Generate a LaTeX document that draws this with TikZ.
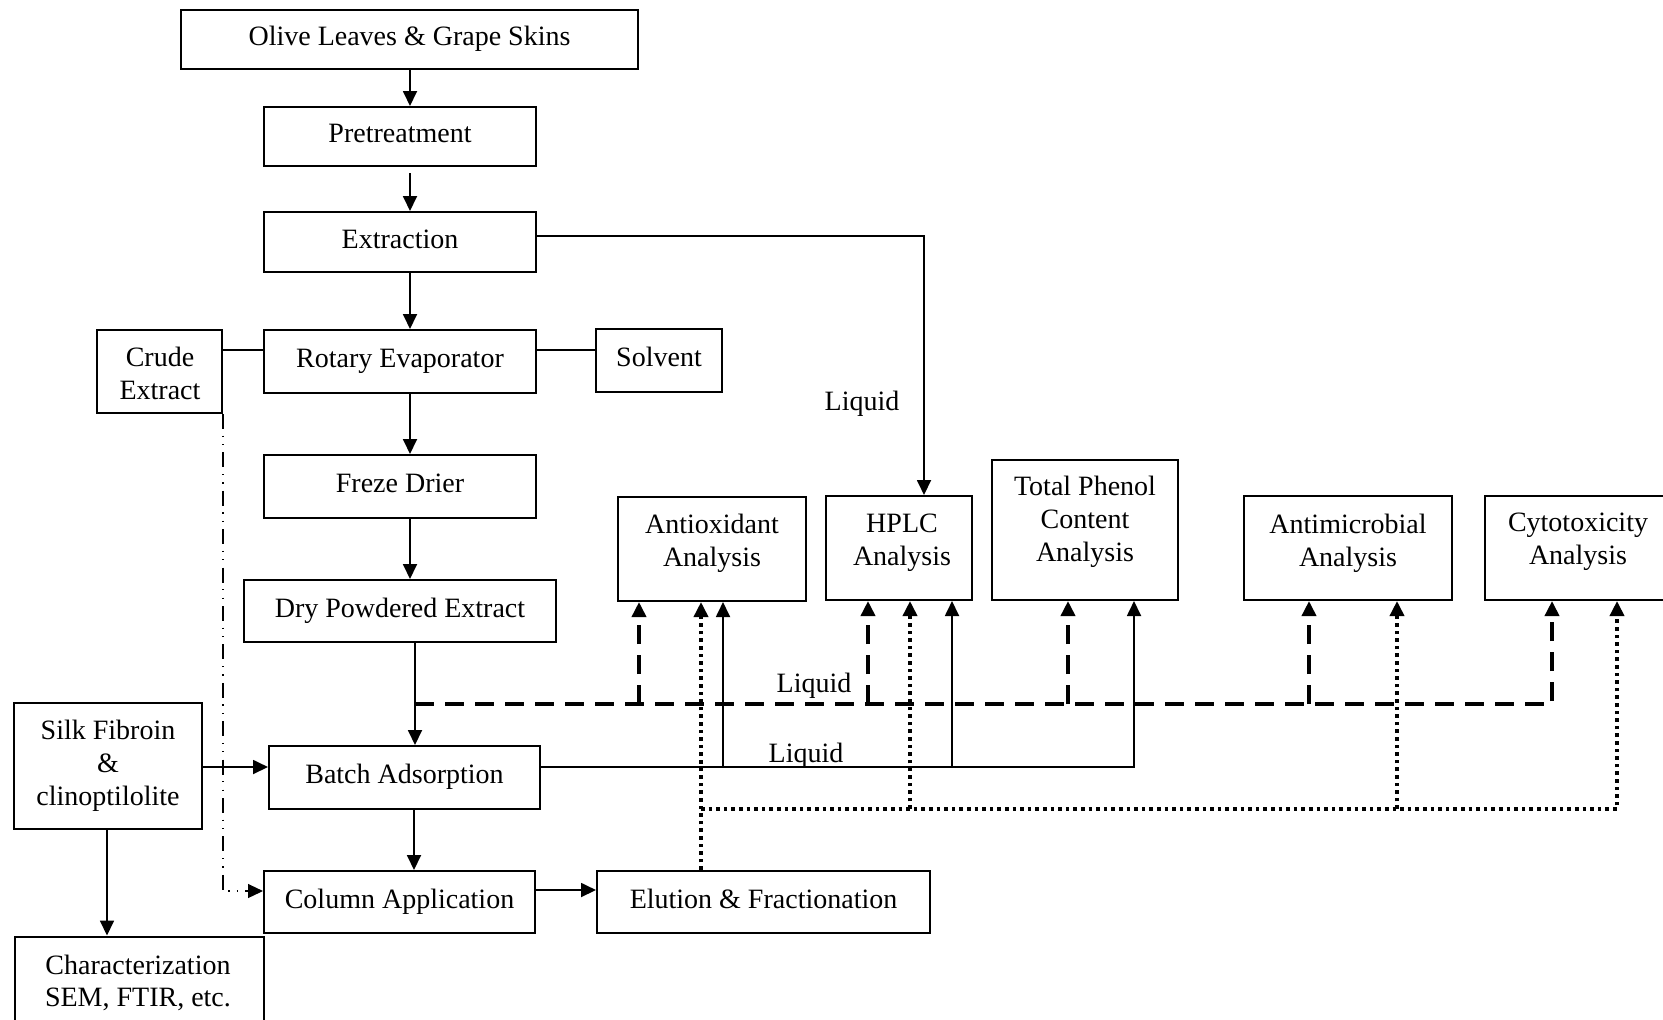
\documentclass[tikz,border=0pt]{standalone}
\usepackage{fontspec}
\setmainfont{Liberation Serif}
\usetikzlibrary{arrows.meta}
\begin{document}
\begin{tikzpicture}[x=0.5pt,y=-0.5pt,
  every node/.style={font=\fontsize{14}{16.4}\selectfont},
  box/.style={draw,line width=1pt,inner sep=0pt,text height=9.5pt,text depth=3.1pt},
  ebox/.style={draw,line width=1pt,inner sep=0pt},
  txt/.style={align=center,inner sep=0pt},
  ln/.style={line width=0.9pt},
  tip/.style={-{Triangle[length=7.5pt,width=7pt]}},
  arr/.style={ln,tip},
  dsh/.style={line width=1.8pt,dash pattern=on 9.5pt off 5.5pt,tip},
  dotln/.style={line width=1.8pt,dash pattern=on 1.8pt off 2pt,tip},
  ddot/.style={line width=0.6pt,dash pattern=on 7.5pt off 3.3pt on 0.6pt off 3.6pt on 0.6pt off 3.6pt,tip}
]
\useasboundingbox (0,0) rectangle (1663,1019);
\fill[white] (0,0) rectangle (1663,1019);
\clip (0,0) rectangle (1663,1019);

% column coordinates
\coordinate (colA) at (410,0);
\coordinate (colB) at (415,0);

% single-line boxes
\node[box,minimum width=228.5pt,minimum height=29.5pt] (olive) at (409.5,39.5) {Olive Leaves \& Grape Skins};
\node[box,minimum width=136pt,minimum height=29.5pt] (pre) at (400,136.5) {Pretreatment};
\node[box,minimum width=136pt,minimum height=30pt] (ext) at (400,242) {Extraction};
\node[box,minimum width=136pt,minimum height=31.5pt] (rot) at (400,361.5) {Rotary Evaporator};
\node[box,minimum width=63pt,minimum height=31.5pt] (solv) at (659,360.5) {Solvent};
\node[box,minimum width=136pt,minimum height=31.5pt] (freze) at (400,486.5) {Freze Drier};
\node[box,minimum width=156pt,minimum height=31pt] (dry) at (400,611) {Dry Powdered Extract};
\node[box,minimum width=135.5pt,minimum height=31.5pt] (batch) at (404.5,777.5) {Batch Adsorption};
\node[box,minimum width=135.5pt,minimum height=31pt] (col) at (399.5,902) {Column Application};
\node[box,minimum width=166.5pt,minimum height=31pt] (elu) at (763.5,902) {Elution \& Fractionation};

% multi-line boxes
\node[ebox,minimum width=62.5pt,minimum height=41.5pt] (crude) at (159.5,371.5) {};
\node[txt] (crudet) at (160,373.5) {Crude\\Extract};
\node[ebox,minimum width=94pt,minimum height=63pt] (silk) at (108,766) {};
\node[txt] (silkt) at (108,766) {Silk Fibroin\\\&\\clinoptilolite};
\node[ebox,minimum width=124.5pt,minimum height=44pt] (char) at (139.5,980.5) {};
\node[txt] (chart) at (138,983) {Characterization\\SEM, FTIR, etc.};
\node[ebox,minimum width=94pt,minimum height=52pt] (antiox) at (712,549) {};
\node[txt] (antioxt) at (712,543) {Antioxidant\\Analysis};
\node[ebox,minimum width=73pt,minimum height=52pt] (hplc) at (899,548) {};
\node[txt] (hplct) at (902,543) {HPLC\\Analysis};
\node[ebox,minimum width=93pt,minimum height=70pt] (tp) at (1085,530) {};
\node[txt] (tpt) at (1085,522) {Total Phenol\\Content\\Analysis};
\node[ebox,minimum width=104pt,minimum height=52pt] (antim) at (1348,548) {};
\node[txt] (antimt) at (1348,543) {Antimicrobial\\Analysis};
\node[ebox,minimum width=93pt,minimum height=52pt] (cyto) at (1578,548) {};
\node[txt] (cytot) at (1578,542) {Cytotoxicity\\Analysis};

% labels
\node[txt] (liq1) at (862,404) {Liquid};
\node[txt] (liq2) at (814,686) {Liquid};
\node[txt] (liq3) at (806,756) {Liquid};

% main column
\draw[arr] (olive.south -| colA) -- (pre.north -| colA);
\draw[arr,shorten <=3pt] (pre.south -| colA) -- (ext.north -| colA);
\draw[arr] (ext.south -| colA) -- (rot.north -| colA);
\draw[arr] (rot.south -| colA) -- (freze.north -| colA);
\draw[arr] (freze.south -| colA) -- (dry.north -| colA);
\draw[arr] (dry.south -| colB) -- (batch.north -| colB);
\draw[arr] (batch.south -| 414,0) -- (col.north -| 414,0);
\draw[arr] (col.east |- 0,890) -- (elu.west |- 0,890);
\draw[arr] (silk.east |- 0,767) -- (batch.west |- 0,767);
\draw[arr] (silk.south -| 107,0) -- (char.north -| 107,0);

% side lines
\draw[ln] (crude.east |- 0,350) -- (rot.west |- 0,350);
\draw[ln] (rot.east |- 0,350) -- (solv.west |- 0,350);

% extraction liquid to HPLC
\draw[arr] (ext.east |- 0,236) -| (hplc.north -| 924,0);

% dash-dot crude extract to column
\draw[ddot] (crude.south east) |- (col.west |- 0,891);

% dashed network
\coordinate (dj) at (415,704);
\draw[dsh] (dj) -| (cyto.south -| 1552,0);
\draw[dsh] (dj -| 639,0) -- (antiox.south -| 639,0);
\draw[dsh] (dj -| 868,0) -- (hplc.south -| 868,0);
\draw[dsh] (dj -| 1068,0) -- (tp.south -| 1068,0);
\draw[dsh] (dj -| 1309,0) -- (antim.south -| 1309,0);

% solid network
\coordinate (sj) at (0,767);
\draw[arr] (batch.east |- sj) -| (tp.south -| 1134,0);
\draw[arr] (sj -| 723,0) -- (antiox.south -| 723,0);
\draw[arr] (sj -| 952,0) -- (hplc.south -| 952,0);

% dotted network
\coordinate (dk) at (701,809);
\draw[dotln] (elu.north -| dk) -- (antiox.south -| dk);
\draw[dotln] (dk) -| (cyto.south -| 1617,0);
\draw[dotln] (dk -| 910,0) -- (hplc.south -| 910,0);
\draw[dotln] (dk -| 1397,0) -- (antim.south -| 1397,0);
\end{tikzpicture}
\end{document}
